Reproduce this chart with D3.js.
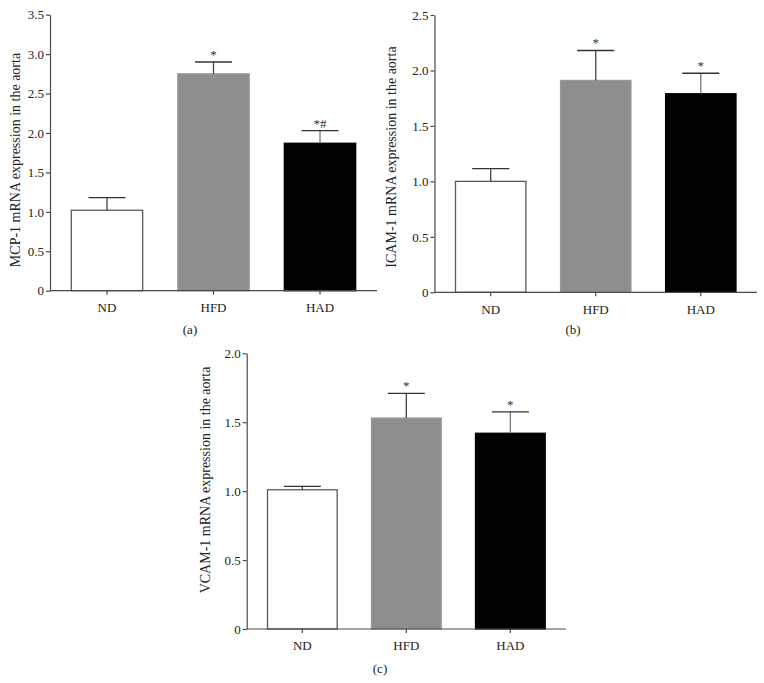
<!DOCTYPE html>
<html>
<head>
<meta charset="utf-8">
<script src="https://cdn.jsdelivr.net/npm/d3@7"></script>
<style>
  body { margin: 0; background: #fff; }
  svg { display: block; font-family: "Liberation Serif", "DejaVu Serif", serif; }
</style>
</head>
<body>
<svg id="fig" width="764" height="683"></svg>
<script>
// groups
const categories = ['ND', 'HFD', 'HAD'];

// (a) MCP-1
const mcpValues = [1.02, 2.75, 1.87];
const mcpErrors = [0.16, 0.15, 0.16];
const mcpMarks = ['', '*', '*#'];
const mcpTicks = [0, 0.5, 1.0, 1.5, 2.0, 2.5, 3.0, 3.5];

// (b) ICAM-1
const icamValues = [1.0, 1.91, 1.79];
const icamErrors = [0.115, 0.27, 0.185];
const icamMarks = ['', '*', '*'];
const icamTicks = [0, 0.5, 1.0, 1.5, 2.0, 2.5];

// (c) VCAM-1
const vcamValues = [1.01, 1.53, 1.42];
const vcamErrors = [0.025, 0.18, 0.155];
const vcamMarks = ['', '*', '*'];
const vcamTicks = [0, 0.5, 1.0, 1.5, 2.0];

const fills = { ND: '#ffffff', HFD: '#8e8e8e', HAD: '#000000' };
const strokes = { ND: '#5a5a5a', HFD: '#9a9a9a', HAD: '#000000' };
const axisColor = '#4a4a4a';

const panels = [
  { values: mcpValues, errors: mcpErrors, marks: mcpMarks, ticks: mcpTicks, label: 'MCP-1 mRNA expression in the aorta',
    tag: '(a)', x0: 50, x1: 377, yTop: 14.7, yBottom: 290.7, labelX: 15, labelY: 160, tagX: 190, tagY: 334 },
  { values: icamValues, errors: icamErrors, marks: icamMarks, ticks: icamTicks, label: 'ICAM-1 mRNA expression in the aorta',
    tag: '(b)', x0: 434.5, x1: 757, yTop: 15, yBottom: 292.3, labelX: 391, labelY: 157, tagX: 573, tagY: 334 },
  { values: vcamValues, errors: vcamErrors, marks: vcamMarks, ticks: vcamTicks, label: 'VCAM-1 mRNA expression in the aorta',
    tag: '(c)', x0: 246.7, x1: 566, yTop: 353.3, yBottom: 629, labelX: 205, labelY: 480, tagX: 380, tagY: 673 }
];

const svg = d3.select('#fig');
const fmt = (d) => (d === 0 ? '0' : d.toFixed(1));

panels.forEach((p) => {
  const g = svg.append('g');
  const x = d3.scaleBand().domain(categories).range([p.x0, p.x1]).paddingInner(0.33).paddingOuter(0.2);
  const y = d3.scaleLinear().domain([0, d3.max(p.ticks)]).range([p.yBottom, p.yTop]);
  const capHalf = 18.5;

  // bars
  g.selectAll('rect.bar')
    .data(categories)
    .join('rect')
    .attr('class', 'bar')
    .attr('x', (d) => x(d))
    .attr('width', x.bandwidth())
    .attr('y', (d, i) => y(p.values[i]))
    .attr('height', (d, i) => y(0) - y(p.values[i]))
    .attr('fill', (d) => fills[d])
    .attr('stroke', (d) => strokes[d])
    .attr('stroke-width', 1.3);

  // error bars (upper only)
  const eb = g.selectAll('g.err').data(categories).join('g').attr('class', 'err');
  eb.append('line')
    .attr('x1', (d) => x(d) + x.bandwidth() / 2)
    .attr('x2', (d) => x(d) + x.bandwidth() / 2)
    .attr('y1', (d, i) => y(p.values[i]))
    .attr('y2', (d, i) => y(p.values[i] + p.errors[i]))
    .attr('stroke', (d) => (d === 'HAD' ? '#777' : '#444'))
    .attr('stroke-width', 1.3);
  eb.append('line')
    .attr('x1', (d) => x(d) + x.bandwidth() / 2 - capHalf)
    .attr('x2', (d) => x(d) + x.bandwidth() / 2 + capHalf)
    .attr('y1', (d, i) => y(p.values[i] + p.errors[i]))
    .attr('y2', (d, i) => y(p.values[i] + p.errors[i]))
    .attr('stroke', '#333')
    .attr('stroke-width', 1.3);

  // significance marks
  g.selectAll('text.mark')
    .data(categories)
    .join('text')
    .attr('class', 'mark')
    .attr('x', (d) => x(d) + x.bandwidth() / 2)
    .attr('y', (d, i) => y(p.values[i] + p.errors[i]) - 3)
    .attr('text-anchor', 'middle')
    .attr('font-size', 13)
    .attr('fill', '#333')
    .text((d, i) => p.marks[i]);

  // y axis
  g.append('g')
    .attr('transform', `translate(${p.x0},0)`)
    .call(d3.axisLeft(y).tickValues(p.ticks).tickFormat(fmt).tickSize(4).tickSizeOuter(0))
    .call((a) => a.select('.domain').attr('stroke', axisColor).attr('stroke-width', 1.2))
    .call((a) => a.selectAll('.tick line').attr('stroke', axisColor).attr('stroke-width', 1.2))
    .call((a) => a.selectAll('.tick text').attr('fill', '#222').attr('font-size', 13)
      .attr('font-family', '"Liberation Serif", serif').attr('x', -6));

  // x axis
  g.append('g')
    .attr('transform', `translate(0,${p.yBottom})`)
    .call(d3.axisBottom(x).tickSize(4).tickSizeOuter(0))
    .call((a) => a.select('.domain').attr('stroke', axisColor).attr('stroke-width', 1.2)
      .attr('d', `M${p.x0},0H${p.x1}`))
    .call((a) => a.selectAll('.tick line').attr('stroke', axisColor).attr('stroke-width', 1.2))
    .call((a) => a.selectAll('.tick text').attr('fill', '#222').attr('font-size', 13)
      .attr('font-family', '"Liberation Serif", serif').attr('y', 12));

  // y label
  g.append('text')
    .attr('transform', `translate(${p.labelX},${p.labelY}) rotate(-90)`)
    .attr('text-anchor', 'middle')
    .attr('dy', '0.35em')
    .attr('font-size', 14)
    .attr('fill', '#222')
    .text(p.label);

  // panel tag
  g.append('text')
    .attr('x', p.tagX)
    .attr('y', p.tagY)
    .attr('text-anchor', 'middle')
    .attr('font-size', 13)
    .attr('fill', '#222')
    .text(p.tag);
});
</script>
</body>
</html>
